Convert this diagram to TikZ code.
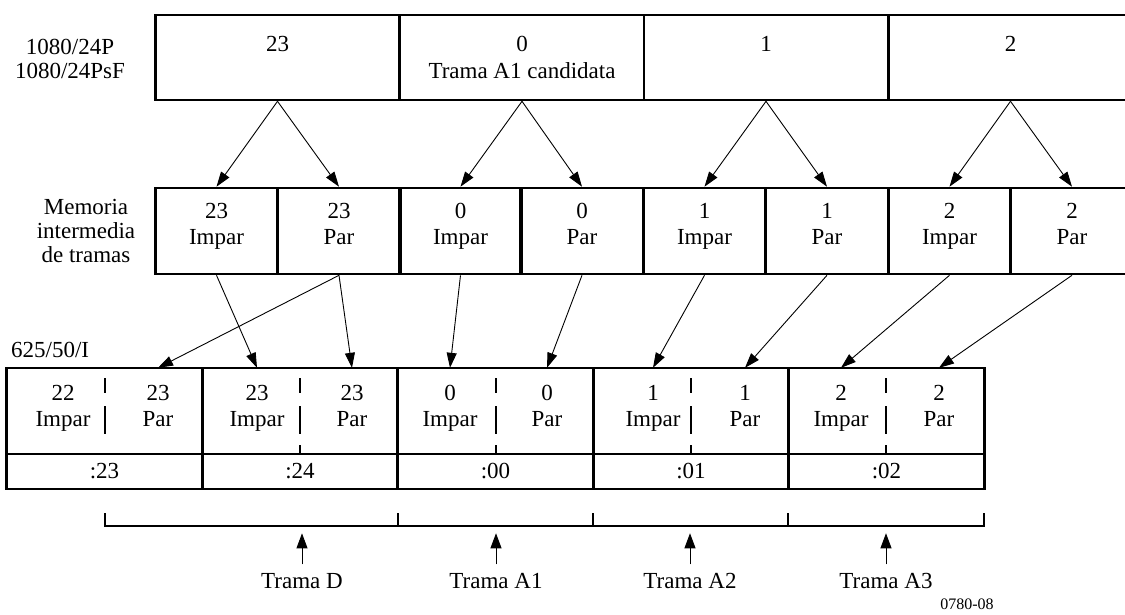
\documentclass[tikz,border=0pt]{standalone}
\usepackage{fontspec}
\setmainfont{Liberation Serif}
\usetikzlibrary{arrows.meta}
% two-line field label; the rule fixes the depth of the second line
\newcommand\bufld[2]{#1\\#2\rule[-15pt]{0pt}{1pt}}
\newcommand\outfld[2]{#1\\#2\rule[-11pt]{0pt}{1pt}}
\begin{document}
\begin{tikzpicture}[x=1pt,y=-1pt,
  font=\fontsize{23}{27}\selectfont,
  frame/.style={draw, line width=2.6pt, rectangle, inner sep=0pt, align=center},
  topbox/.style={frame, minimum width=244pt, minimum height=85pt},
  midbox/.style={frame, minimum width=122.5pt, minimum height=86pt,
    font=\fontsize{23}{26}\selectfont},
  outbox/.style={frame, minimum width=195.5pt, minimum height=86pt},
  tcbox/.style={frame, minimum width=195.5pt, minimum height=35pt},
  half/.style={inner sep=0pt, align=center, minimum height=86pt,
    font=\fontsize{23}{26}\selectfont},
  side/.style={align=center, inner sep=0pt, font=\fontsize{23}{24}\selectfont},
  feed/.style={line width=0.9pt, -{Triangle[length=15pt,width=10pt]}},
  divider/.style={line width=2.6pt},
  bracket/.style={line width=2pt},
  tramalbl/.style={inner sep=0pt, outer sep=9pt},
  uparrow/.style={line width=0.9pt, -{Triangle[length=15pt,width=11pt]}},
]
\clip (0,0) rectangle (1125,615);
\useasboundingbox (0,0) rectangle (1125,615);

% source frames (1080/24P)
\node[side] (src) at (70,58.5) {1080/24P\\1080/24PsF};
\node[topbox] (t23) at (277.5,57.5) {23\\\mbox{}};
\node[topbox] (t0)  at (522,57.5)   {0\\Trama A1 candidata};
\node[topbox] (t1)  at (766,57.5)   {1\\\mbox{}};
\node[topbox] (t2)  at (1010.5,57.5) {2\\\mbox{}};

% frame buffer fields
\node[side] (buf) at (86,231) {Memoria\\intermedia\\de tramas};
\node[midbox] (m23i) at (216.5,231) {\bufld{23}{Impar}};
\node[midbox] (m23p) at (339,231)   {\bufld{23}{Par}};
\node[midbox] (m0i)  at (460.5,231) {\bufld{0}{Impar}};
\node[midbox] (m0p)  at (582,231)   {\bufld{0}{Par}};
\node[midbox] (m1i)  at (704.5,231) {\bufld{1}{Impar}};
\node[midbox] (m1p)  at (827,231)   {\bufld{1}{Par}};
\node[midbox] (m2i)  at (949.5,231) {\bufld{2}{Impar}};
\node[midbox] (m2p)  at (1072,231)  {\bufld{2}{Par}};

% 625/50/I output frames
\node[anchor=west, inner sep=0pt] (out) at (11,350) {625/50/I};
\node[outbox] (o1) at (104.5,411) {};
\node[outbox] (o2) at (300,411)   {};
\node[outbox] (o3) at (495.5,411) {};
\node[outbox] (o4) at (691,411)   {};
\node[outbox] (o5) at (886.5,411) {};

\node[half] (h1l) at (63,411)  {\outfld{22}{Impar}};
\node[half] (h1r) at (158,411) {\outfld{23}{Par}};
\node[half] (h2l) at (257,411) {\outfld{23}{Impar}};
\node[half] (h2r) at (352,411) {\outfld{23}{Par}};
\node[half] (h3l) at (450,411) {\outfld{0}{Impar}};
\node[half] (h3r) at (547,411) {\outfld{0}{Par}};
\node[half] (h4l) at (653,411) {\outfld{1}{Impar}};
\node[half] (h4r) at (745,411) {\outfld{1}{Par}};
\node[half] (h5l) at (841,411) {\outfld{2}{Impar}};
\node[half] (h5r) at (939,411) {\outfld{2}{Par}};

% field dividers
\draw[divider] (105,378) -- (105,393) (105,406) -- (105,434);
\foreach \x in {300,496,691,886}
  \draw[divider] (\x,378) -- (\x,393) (\x,406) -- (\x,434) (\x,445) -- (\x,454);

% time code row
\node[tcbox] (c1) at (104.5,471.5) {:23};
\node[tcbox] (c2) at (300,471.5)   {:24};
\node[tcbox] (c3) at (495.5,471.5) {:00};
\node[tcbox] (c4) at (691,471.5)   {:01};
\node[tcbox] (c5) at (886.5,471.5) {:02};

% frames into the buffer
\draw[feed] (t23.south) -- (m23i.north);
\draw[feed] (t23.south) -- (m23p.north);
\draw[feed] (t0.south) -- (m0i.north);
\draw[feed] (t0.south) -- (m0p.north);
\draw[feed] (t1.south) -- (m1i.north);
\draw[feed] (t1.south) -- (m1p.north);
\draw[feed] (t2.south) -- (m2i.north);
\draw[feed] (t2.south) -- (m2p.north);

% buffer fields into the output frames
\draw[feed] (m23i.south) -- (h2l.north);
\draw[feed] (m23p.south) -- (h1r.north);
\draw[feed] (m23p.south) -- (h2r.north);
\draw[feed] (m0i.south) -- (h3l.north);
\draw[feed] (m0p.south) -- (h3r.north);
\draw[feed] (m1i.south) -- (h4l.north);
\draw[feed] (m1p.south) -- (h4r.north);
\draw[feed] (m2i.south) -- (h5l.north);
\draw[feed] (m2p.south) -- (h5r.north);

% grouping bracket
\draw[bracket] (105,513) -- (105,526) -- (984,526) -- (984,513);
\foreach \x in {398,593,788}
  \draw[bracket] (\x,513) -- (\x,526);

% frame labels
\node[tramalbl] (lD)  at (302,581) {Trama D};
\node[tramalbl] (lA1) at (496,581) {Trama A1};
\node[tramalbl] (lA2) at (690,581) {Trama A2};
\node[tramalbl] (lA3) at (886,581) {Trama A3};
\foreach \n in {lD,lA1,lA2,lA3}
  \draw[uparrow] (\n.north) -- ++(0,-31);

\node[inner sep=0pt, font=\fontsize{16}{18}\selectfont] (fig) at (967,604) {0780-08};
\end{tikzpicture}
\end{document}
